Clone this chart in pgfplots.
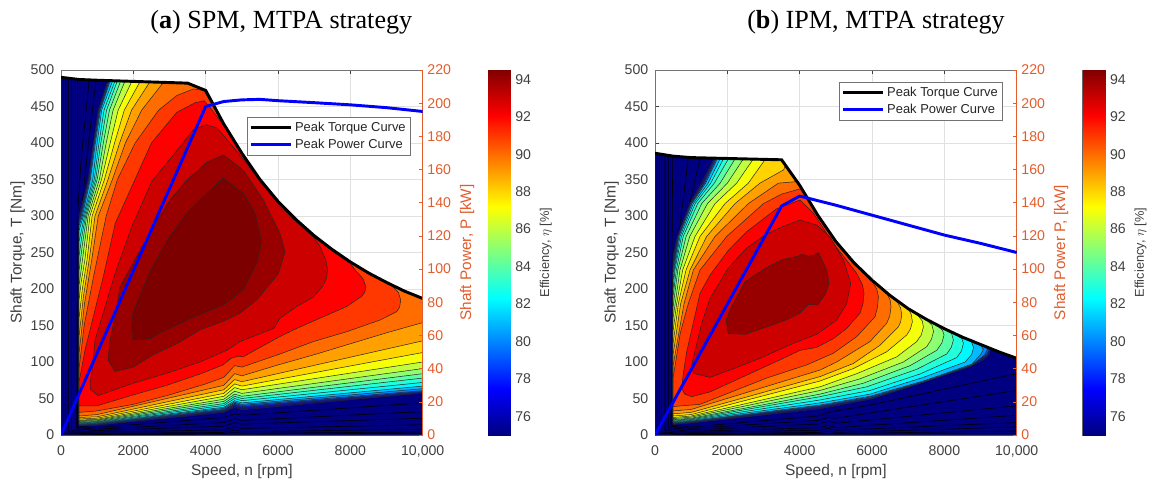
\documentclass[border=0pt]{standalone}
\usepackage{fontspec}
\setmainfont{Liberation Sans}
\newfontfamily\titlefont{Liberation Serif}
\usepackage{pgfplots}
\pgfplotsset{compat=1.18}

% jet colours of the contour bands, c1 = innermost
\definecolor{c1}{RGB}{125,0,0}
\definecolor{c2}{RGB}{152,0,0}
\definecolor{c3}{RGB}{205,0,0}
\definecolor{c4}{RGB}{255,0,0}
\definecolor{c5}{RGB}{255,56,0}
\definecolor{c6}{RGB}{255,108,0}
\definecolor{c7}{RGB}{255,160,0}
\definecolor{c8}{RGB}{255,212,0}
\definecolor{c9}{RGB}{245,255,10}
\definecolor{c10}{RGB}{193,255,62}
\definecolor{c11}{RGB}{140,255,115}
\definecolor{c12}{RGB}{89,255,166}
\definecolor{c13}{RGB}{36,255,219}
\definecolor{c14}{RGB}{0,248,255}
\definecolor{c15}{RGB}{0,187,255}
\definecolor{c16}{RGB}{0,134,255}
\definecolor{c17}{RGB}{0,82,255}
\definecolor{c18}{RGB}{0,29,255}
\definecolor{c19}{RGB}{0,0,233}
\definecolor{c20}{RGB}{0,0,180}
\definecolor{c21}{RGB}{0,0,128}
\definecolor{tickgray}{RGB}{64,64,64}
\definecolor{pw}{RGB}{226,92,44}

\pgfplotsset{
  band/.style={fill=#1,draw=black!85,line width=0.38pt,mark=none},
  cline/.style={draw=black,line width=0.45pt,mark=none},
  panel/.style={
    scale only axis,width=271.3pt,height=273.75pt,
    /pgf/number format/assume math mode=true,
    tick label style={font=\fontsize{10.6}{12}\selectfont,text=tickgray},
    tick align=inside,major tick length=2.7pt,
    every tick/.style={tickgray,line width=0.4pt},
  },
  leftaxis/.style={
    panel,xmin=0,xmax=10000,ymin=0,ymax=500,
    scaled ticks=false,
    xtick={0,2000,4000,6000,8000,10000},
    xticklabels={0,2000,4000,6000,8000,{10,000}},
    xticklabel style={yshift=-4.5pt},
    yticklabel style={xshift=-1.5pt},
    ytick={0,50,...,500},
    ytick pos=left,
    grid=major,major grid style={black!12,line width=0.5pt},
    axis line style={black!55,line width=0.6pt},
    every axis y label/.style={at={(axis description cs:-0.12,0.5)},rotate=90,anchor=center,
      font=\fontsize{11.6}{13}\selectfont,text=tickgray},
    every axis x label/.style={at={(axis description cs:0.5,-0.1)},anchor=center,
      font=\fontsize{11.6}{13}\selectfont,text=tickgray},
    xlabel={Speed, n [rpm]},
  },
  rightaxis/.style={
    panel,xmin=0,xmax=10000,ymin=0,ymax=220,
    axis x line=none,axis y line*=right,
    ytick={0,20,...,220},
    y axis line style={pw,line width=0.7pt},
    ytick style={pw},
    yticklabel style={text=pw},
    every axis y label/.style={at={(axis description cs:1.1225,0.5)},rotate=90,anchor=center,
      font=\fontsize{11.5}{13}\selectfont,text=pw},
    every tick/.style={pw,line width=0.4pt},
    legend cell align=left,
    legend image code/.code={\draw[##1] (0pt,0pt) -- (30pt,0pt);},
    legend style={font=\fontsize{9.7}{11}\selectfont,draw=black!55,fill=white,line width=0.7pt,
      text=black!85,inner sep=1.5pt,row sep=0.5pt},
  },
  cbar/.style={
    scale only axis,width=17pt,height=273.75pt,
    xmin=0,xmax=1,ymin=75,ymax=94.5,xtick=\empty,
    ytick={76,78,...,94},ytick pos=right,yticklabel pos=right,
    /pgf/number format/assume math mode=true,
    tick label style={font=\fontsize{10.6}{12}\selectfont,text=tickgray},
    tick align=inside,major tick length=2.2pt,
    every tick/.style={tickgray,line width=0.4pt},
    axis line style={black!60,line width=0.6pt},
    colormap/jet,point meta min=75,point meta max=94.5,
    every axis y label/.style={at={(axis description cs:2.55,0.5)},rotate=90,anchor=center,
      font=\fontsize{9.6}{11}\selectfont,text=tickgray},
    ylabel={Efficiency, $\eta$ [\%]},
  },
}

% helper: a closed filled contour, macros in the point list get expanded
\newcommand\band[2]{\edef\tmp{\noexpand\addplot[band=#1] coordinates {#2} --cycle;}\tmp}

% peak torque envelopes, from the base speed on
\def\envA{(3500,482)(4000,472)(4500,426)(5000,386)(5500,350)(6000,320)(6500,295)(7000,273)(7500,254)(8000,237)(8500,222)(9000,209)(9500,197)(10000,187)}
\def\envBa{(3500,377)(4000,342)(4500,301)(5000,265)(5500,236)(6000,212)}
\def\envBb{(6500,191)(7000,173)}
\def\envBc{(7500,158.5)(8000,145.6)}
\def\envBd{(8500,134)(9000,124)}

\begin{document}
\begin{tikzpicture}
\path[use as bounding box] (0,0) rectangle (866.25pt,366.75pt);

\node[font=\titlefont\fontsize{19.6}{21}\selectfont] at (211pt,350pt) {(\textbf{a}) SPM, MTPA strategy};
\node[font=\titlefont\fontsize{19.6}{21}\selectfont] at (657pt,350pt) {(\textbf{b}) IPM, MTPA strategy};

%%%%%%%%%% panel a %%%%%%%%%%
\begin{axis}[leftaxis,at={(45.75pt,40.5pt)},anchor=south west,ylabel={Shaft Torque, T [Nm]}]
\band{c21}{(0,0)(0,490)(500,487)(1000,486)\envA(10000,0)}
\addplot[cline] coordinates {(970,486)(760,400)(590,320)(470,270)(470,12)(1000,10)(4500,24)(4800,29)(5000,27)(10000,44)};
\addplot[cline] coordinates {(780,486)(560,380)(455,300)(455,10)(1000,8)(4500,17)(4800,22)(5000,20)(10000,32)};
\addplot[cline] coordinates {(460,487)(435,8)(1000,6)(4500,12)(4800,17)(5000,15)(10000,23)};
\addplot[cline] coordinates {(290,488)(290,6)(1000,4)(4500,7)(4800,11)(5000,9)(10000,14)};
\addplot[cline] coordinates {(200,489)(200,4.5)(1000,2.5)(4500,3.5)(4800,7)(5000,4.5)(10000,8)};
\addplot[cline] coordinates {(128,489)(128,3)(1000,1.5)(4500,2)(4800,4)(5000,2.5)(10000,4)};
\addplot[cline] coordinates {(64,490)(64,1.5)(1000,0.7)(10000,2)};

\band{c20}{(500,12.5)(500,300)(750,350)(900,400)(1030,445)(1300,486)\envA(10000,57.5)(5000,34.5)(4800,38)(4500,31)(1000,13.5)}
\band{c19}{(500,13)(500,298)(520,300)(760,350)(905,400)(1040,445)(1315,485.5)\envA(10000,58)(5000,36)(4800,39)(4500,32)(1000,14)}
\band{c18}{(500,13.5)(500,296)(530,300)(770,350)(910,400)(1050,445)(1320,485.5)\envA(10000,58.5)(5000,37.5)(4800,40.5)(4500,33)(1000,14.5)}
\band{c17}{(500,14)(500,294)(540,300)(780,350)(915,400)(1060,445)(1330,485.5)\envA(10000,59.5)(5000,39)(4800,42)(4500,34)(1000,15)}
\band{c16}{(500,14.6)(500,291)(560,300)(790,350)(925,400)(1070,445)(1340,485.5)\envA(10000,60.7)(5000,40.5)(4800,43.5)(4500,35)(1000,15.6)}
\band{c15}{(500,15.3)(500,287)(590,300)(810,350)(950,400)(1090,445)(1360,485.5)\envA(10000,63.5)(5000,42)(4800,45)(4500,36.5)(1000,16.3)}
\band{c14}{(500,16)(500,280)(620,300)(880,350)(1000,400)(1125,445)(1428,485)\envA(10000,67)(5000,44)(4800,47)(4500,38)(1000,17)}
\band{c13}{(500,16.8)(500,265)(650,300)(920,350)(1050,400)(1190,445)(1493,485)\envA(10000,72)(5000,47)(4800,50)(4500,40.5)(1000,17.8)}
\band{c12}{(500,17.5)(500,245)(570,270)(680,300)(960,350)(1100,400)(1260,445)(1557,485)\envA(10000,78)(5000,50)(4800,53)(4500,43)(1000,18.5)}
\band{c11}{(500,18.5)(500,225)(590,260)(710,300)(1000,350)(1170,400)(1340,445)(1650,485)\envA(10000,84)(5000,53)(4800,56)(4500,46)(1000,19.5)}
\band{c10}{(500,19.5)(500,205)(620,250)(750,300)(1060,350)(1250,400)(1440,445)(1770,485)\envA(10000,91)(5000,57)(4800,60)(4500,49)(1000,20.5)}
\band{c9}{(500,20.5)(500,185)(560,210)(660,240)(800,300)(1120,350)(1360,400)(1580,445)(1954,484)\envA(10000,100)(5000,62)(4800,65)(4500,53)(1000,21.5)}
\band{c8}{(500,22)(500,160)(590,200)(720,240)(860,300)(1200,350)(1480,400)(1750,445)(2184,484)\envA(10000,113)(5000,67)(4800,70)(4500,57)(1000,23)}
\band{c7}{(500,24)(500,135)(620,190)(780,240)(940,300)(1300,350)(1620,400)(1950,445)(2460,484)\envA(10000,129)(5000,73)(4800,76)(4500,62)(1000,25)}
\band{c6}{(500,26)(500,112)(650,180)(850,240)(1030,300)(1420,350)(1780,400)(2230,445)(2830,483)\envA(10000,154)(9000,140)(8000,125)(7000,110)(6000,96)(5000,81)(4800,84)(4500,68)(1000,28)}
\band{c5}{(500,31)(500,91)(640,150)(900,217)(1250,300)(1560,350)(2050,400)(2700,445)(3200,465)(3660,474)(3950,472)(4500,426)(5000,386)(5500,350)(6000,320)(6500,295)(7000,273)(7500,254)(8000,237)(8500,222)(9000,209)(9140,205)(9330,195)(9390,185)(9360,175)(9281,169)(8820,157.5)(7899,141.5)(6977,128)(6055,111)(5000,93)(4800,95)(4500,79)(4000,70)(3000,55)(2000,42)(1000,33)}
\band{c4}{(500,40)(500,73)(663,116)(893,162)(1170,217)(1500,290)(1954,340)(2500,400)(3200,442)(3700,455)(3954,458)(4100,450)(4500,424)(5000,384)(5500,348)(6000,318)(6500,293)(7000,271)(7500,252)(8000,235)(8130,226)(8350,214)(8430,203)(8400,196)(8313,190)(7899,176)(7252,162)(6516,146)(6055,135)(5030,107)(4900,108)(4700,105)(4480,96)(3840,83.5)(2920,68)(2000,55)(1000,40)}
\band{c3}{(4010,425)(4305,421)(4500,410)(5000,380)(6000,317)(6500,292)(7000,270)(7160,258)(7320,240)(7370,226)(7340,215)(7252,205)(6977,189)(6516,176)(6055,160)(5880,146)(4950,128)(4580,116)(3840,100)(2920,84.5)(2000,71)(1030,54)(820,62)(802,71)(850,85)(941,130)(1493,221)(1954,285)(2507,347)(3290,395)(3659,418)}
\band{c2}{(4488,383.6)(5041,363)(5593,322)(6055,276)(6193,251)(6008,221)(5410,185)(4950,167)(4490,156)(3840,144)(3200,125)(2550,110)(2000,93)(1490,87)(1300,103)(1355,130)(1493,162)(1631,203)(2184,253)(2552,285)(3014,322)(3475,349)(4027,373.5)}
\band{c1}{(4488,352)(5041,331)(5364,304)(5548,265)(5410,235)(5041,199)(4488,178)(3935,167)(3382,155)(2737,139.6)(2460,132)(2000,130)(1935,148)(2000,169)(2460,224)(2967,269)(3475,304)(3981,329)}
\addplot[black,line width=2.2pt,mark=none] coordinates {(0,490)(500,487)(1000,486)\envA};
\end{axis}
\begin{axis}[rightaxis,at={(45.75pt,40.5pt)},anchor=south west,ylabel={Shaft Power, P [kW]},
  legend style={at={(axis description cs:0.514,0.872)},anchor=north west}]
\addlegendimage{black,line width=2.2pt}
\addlegendentry{Peak Torque Curve}
\addplot[blue,line width=2.2pt,mark=none] coordinates {(0,0)(4000,198)(4500,201)(5000,202)(5500,202.3)(6000,201.5)(7000,200.3)(8000,199)(9000,197.3)(10000,195)};
\addlegendentry{Peak Power Curve}
\end{axis}
\begin{axis}[cbar,at={(366pt,40.5pt)},anchor=south west]
\addplot[surf,shader=interp,point meta=y,mesh/cols=2] coordinates {(0,75)(1,75) (0,94.5)(1,94.5)};
\end{axis}

%%%%%%%%%% panel b %%%%%%%%%%
\begin{axis}[leftaxis,at={(491.25pt,40.5pt)},anchor=south west,ylabel={Shaft Torque, T [Nm]}]
\band{c21}{(0,0)(0,386)(500,382)(1000,380)\envBa\envBb\envBc\envBd(9500,114)(10000,105)(10000,0)}
\addplot[cline] coordinates {(1244,379)(880,300)(620,240)(470,205)(470,14)(1000,11)(4500,26)(4800,31)(5000,33)(5944,41)(10000,84)};
\addplot[cline] coordinates {(921,380)(650,270)(480,210)(455,12)(1000,9)(4500,20)(4800,24)(5000,23)(10000,61)};
\addplot[cline] coordinates {(489,382)(440,10)(1000,7)(4500,15)(4800,19)(5000,16)(10000,40)};
\addplot[cline] coordinates {(369,383)(369,8)(1000,5)(4500,10)(4800,13)(5000,10)(10000,27)};
\addplot[cline] coordinates {(276,384)(276,6)(1000,3.5)(4500,6.5)(4800,9)(5000,6.5)(10000,17)};
\addplot[cline] coordinates {(184,385)(184,4)(1000,2)(4500,3.5)(4800,5)(5000,3.5)(10000,11)};
\addplot[cline] coordinates {(120,385)(120,2.5)(1000,1.2)(5000,2)(10000,5.5)};
\addplot[cline] coordinates {(64,386)(64,1.5)(1000,0.6)(10000,2)};

\band{c20}{(500,14.5)(500,245)(620,272)(965,317)(1280,345)(1631,378)\envBa\envBb\envBc\envBd(9200,120)(9260,114)(9200,108)(9076,103)(8709,93.6)(7327,70.8)(6036,50)(5114,41)(4562,36)(1000,16.5)}
\band{c19}{(500,15)(500,240)(625,272)(975,317)(1310,345)(1640,378)\envBa\envBb\envBc\envBd(9255,115)(9190,108.5)(8710,94)(7330,71)(6000,50)(4562,37)(1000,17)}
\band{c18}{(500,15.5)(500,236)(630,272)(980,317)(1330,345)(1650,378)\envBa\envBb\envBc\envBd(9250,116)(9180,109)(8710,94.5)(7350,71.5)(5980,50.5)(4562,38)(1000,17.5)}
\band{c17}{(500,16)(500,232)(640,272)(990,317)(1350,345)(1670,378)\envBa\envBb\envBc\envBd(9240,117)(9170,110)(8720,95)(7380,72)(5980,51)(4562,39)(1000,18)}
\band{c16}{(500,16.5)(500,228)(650,272)(1000,317)(1370,345)(1690,378)\envBa\envBb\envBc\envBd(9200,118)(9120,110)(8755,96)(7419,73)(5944,52)(4562,40)(1000,18.5)}
\band{c15}{(500,17)(500,222)(515,226)(660,272)(1020,317)(1400,345)(1720,378)\envBa\envBb\envBc(8500,134)(8800,128)(9000,123)(9076,117)(9000,110)(8755,97)(7419,74)(5944,53)(4562,41)(1000,19)}
\band{c14}{(500,18)(500,212)(530,226)(690,272)(1060,317)(1470,345)(1797,378)\envBa\envBb\envBc(8500,134)(8740,128)(8808,120)(8750,110)(8570,100)(7419,79)(5944,56)(4562,44)(1000,20)}
\band{c13}{(500,19)(500,200)(550,226)(730,272)(1110,317)(1540,345)(1890,378)\envBa\envBb\envBc(8300,138)(8480,132)(8527,125.6)(8470,115)(8340,106)(7327,83.6)(5944,61)(4562,48)(1000,21)}
\band{c12}{(500,20)(500,190)(590,226)(780,272)(1180,317)(1640,345)(2027,378)\envBa\envBb\envBc(8200,139)(8248,130)(8190,120)(8065,111)(7235,90)(5852,66)(4562,52.5)(1000,22)}
\band{c11}{(500,21)(500,175)(630,226)(860,272)(1290,317)(1800,345)(2210,378)\envBa\envBb(7500,158.5)(7800,150)(7950,143)(7990,137)(7930,126)(7788,116)(7050,95)(5760,71)(4562,56)(1000,23)}
\band{c10}{(500,22.5)(500,160)(690,226)(960,272)(1450,317)(2000,345)(2440,378)\envBa\envBb(7500,158.5)(7660,150)(7700,141.5)(7640,131)(7512,121)(6866,100)(5668,77)(4562,61)(1000,24.5)}
\band{c9}{(500,24)(500,142)(599,180)(765,226)(1106,272)(1659,317)(2258,345)(2535,365)(2716,378)\envBa\envBb(7250,165)(7390,156)(7420,148)(7360,137)(7235,128)(6681,107)(5576,84)(4562,66)(1000,26)}
\band{c8}{(500,26)(500,125)(645,180)(857,226)(1244,272)(1935,317)(2580,345)(3038,377)\envBa\envBb(7085,165)(7115,155)(7060,145)(6959,137)(6405,114)(5484,91)(4562,74)(1000,28)}
\band{c7}{(500,29)(500,110)(710,180)(968,226)(1428,272)(2212,317)(2900,345)(3550,363)(3620,370)(4000,342)(4500,301)(5000,265)(5500,236)(6000,212)(6500,191)(6680,184)(6790,174)(6820,164)(6790,155)(6727,148)(6222,123)(5484,98)(4562,80)(1000,31)}
\band{c6}{(500,33)(500,95)(802,180)(1060,226)(1658,272)(2580,317)(3410,345)(3880,347)(3960,346)(4500,301)(5000,265)(5500,236)(6000,212)(6405,194)(6500,185)(6525,175.8)(6490,163)(6405,153)(5944,128)(5022,100)(4562,89)(1000,35)}
\band{c5}{(500,39)(500,78)(700,140)(921,180)(1244,226)(1982,272)(3000,317)(3500,330)(4000,337)(4100,333)(4500,301)(5000,265)(5500,236)(5944,215)(6130,200)(6175,189.5)(6150,175)(6083,162)(5576,134.7)(4930,112)(4193,96)(3087,78)(2165,60)(1244,42)}
\band{c4}{(738,64)(783,84.5)(880,115)(1014,144)(1244,194)(1520,219)(2028,253)(2534,278.5)(3364,310)(4009,322)(4377,304)(4930,262.6)(5576,221.5)(5740,205)(5778,194)(5750,180)(5668,167)(5300,146)(4930,132)(4470,120)(4009,116)(3456,103)(2534,82)(1520,59)(1014,52.5)(820,56)}
\band{c3}{(4009,294.5)(3502,285)(3041,274)(2534,256)(2028,229)(1520,187)(1290,153)(1014,96)(1060,84.5)(1520,79)(2074,89)(2903,105)(3825,125.6)(4470,138)(5023,157.5)(5300,180)(5410,208)(5207,240)(4838,271.6)(4470,287.7)}
\band{c2}{(4516,250)(4746,226)(4811,208)(4700,192)(4488,178)(4240,179)(4009,167)(3640,158)(3088,148)(2488,138)(2028,139)(1963,157.5)(2074,171)(2488,210)(3041,228)(3502,240)(3963,245)(4055,247.5)(4240,245)(4423,246.6)}
\addplot[black,line width=2.2pt,mark=none] coordinates {(0,386)(500,382)(1000,380)\envBa\envBb\envBc\envBd(9500,114)(10000,105)};
\end{axis}
\begin{axis}[rightaxis,at={(491.25pt,40.5pt)},anchor=south west,ylabel={Shaft Power P, [kW]},
  legend style={at={(axis description cs:0.509,0.968)},anchor=north west}]
\addlegendimage{black,line width=2.2pt}
\addlegendentry{Peak Torque Curve}
\addplot[blue,line width=2.2pt,mark=none] coordinates {(0,0)(3500,138)(4000,144)(5000,138.5)(6000,132.5)(7000,126.5)(8000,120.5)(9000,115.5)(10000,110)};
\addlegendentry{Peak Power Curve}
\end{axis}
\begin{axis}[cbar,at={(812pt,40.5pt)},anchor=south west]
\addplot[surf,shader=interp,point meta=y,mesh/cols=2] coordinates {(0,75)(1,75) (0,94.5)(1,94.5)};
\end{axis}
\end{tikzpicture}
\end{document}
